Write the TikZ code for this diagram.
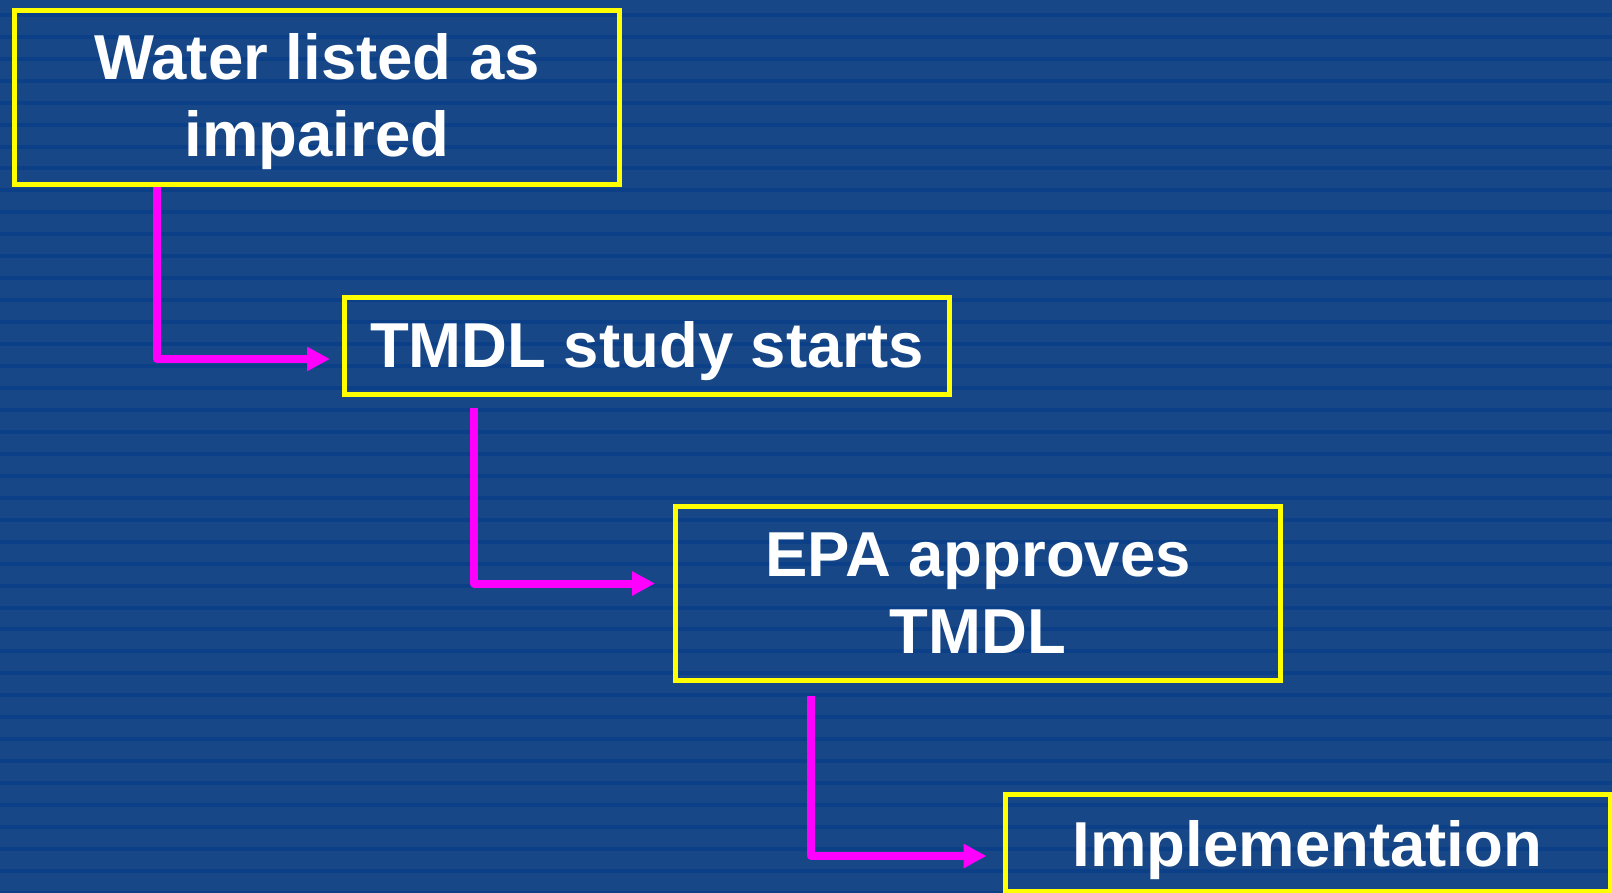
\documentclass[tikz,border=0pt]{standalone}
\usepackage{fontspec}
\setmainfont{Liberation Sans}
\usetikzlibrary{arrows.meta,calc}
\definecolor{bglight}{RGB}{23,71,135}
\definecolor{bgdark}{RGB}{11,64,136}
\definecolor{boxyellow}{RGB}{255,255,0}
\definecolor{arrmagenta}{RGB}{255,0,255}
\tikzset{
  stagebox/.style={draw=boxyellow, line width=5pt, inner sep=0pt, minimum width=605pt},
  stagetext/.style={text=white, font=\fontsize{63.5}{77}\selectfont\bfseries, align=center, inner sep=0pt, anchor=base},
  flowarrow/.style={draw=arrmagenta, line width=8pt, line join=round, -{Triangle[length=23pt,width=23pt]}}
}
\begin{document}
\begin{tikzpicture}[x=1pt,y=-1pt]
\useasboundingbox (0,0) rectangle (1612,893);
\clip (0,0) rectangle (1612,893);
\fill[bglight] (0,0) rectangle (1612,893);
\foreach \k in {0,...,41} {
  \fill[bgdark] (0,{12.85+21.95*\k}) rectangle (1612,{16.85+21.95*\k});
}
% boxes
\node[stagebox, minimum height=174pt] (b1) at (317,97.5) {};
\node[stagebox, minimum height=97pt] (b2) at (647,346) {};
\node[stagebox, minimum height=174pt] (b3) at (978,593) {};
\node[stagebox, minimum height=97pt] (b4) at (1307.5,843) {};
% texts (base = baseline of the last line)
\node[stagetext] (t1) at (317,157) {Water listed as\\impaired};
\node[stagetext] (t2) at (647,367) {TMDL study starts};
\node[stagetext] (t3) at (978,653) {EPA approves\\TMDL};
\node[stagetext] (t4) at (1307.5,866) {Implementation};
% connectors
\coordinate (a1s) at ($(b1.south west)+(145,0)$);
\coordinate (a1e) at ($(b2.west)+(-12,13)$);
\coordinate (a2s) at ($(b2.south west)+(132,11)$);
\coordinate (a2e) at ($(b3.west)+(-18,-9.5)$);
\coordinate (a3s) at ($(b3.south west)+(138,13)$);
\coordinate (a3e) at ($(b4.west)+(-16,13)$);
\draw[flowarrow] (a1s) |- (a1e);
\draw[flowarrow] (a2s) |- (a2e);
\draw[flowarrow] (a3s) |- (a3e);
\end{tikzpicture}
\end{document}
